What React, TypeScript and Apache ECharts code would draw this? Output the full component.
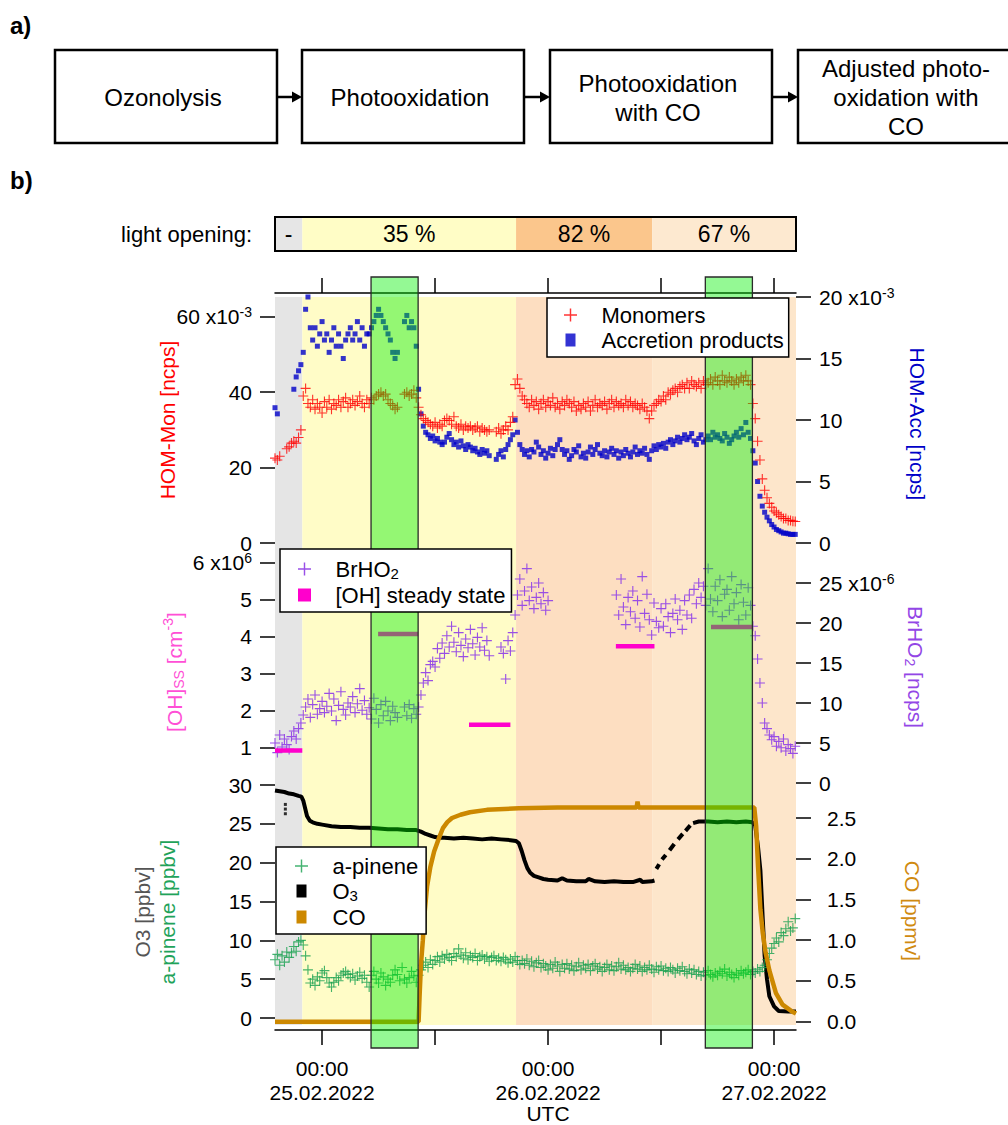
import React, { useEffect, useRef } from 'react';
import * as echarts from 'echarts';

const FONT = '"Liberation Sans", Arial, Helvetica, sans-serif';

// ---- time axis: hours relative to 00:00 UTC 25.02.2022 ----
const T_MIN = -5;
const T_MAX = 50.33;
const STEP_H = 0.25; // sampling step of the scatter arrays (first value at T_MIN)

const halfDayTicks = [0, 12, 24, 36, 48];
const dayTickHours = [0, 24, 48];
const dayTickDates = ['25.02.2022', '26.02.2022', '27.02.2022'];

// ---- panel a) flow ----
const flowSteps = ['Ozonolysis', 'Photooxidation', 'Photooxidation\nwith CO', 'Adjusted photo-\noxidation with\nCO'];

// ---- light opening phases ----
const lightLabels = ['-', '35 %', '82 %', '67 %'];
const lightStart = [-5, -2.1, 20.6, 35.05];
const lightEnd = [-2.1, 20.6, 35.05, 50.33];
const lightBarColors = ['#e6e6e6', '#fffdc6', '#fbc68c', '#fde9d0'];
const panelBgColors = ['#e5e5e5', '#fffcc7', '#fddec1', '#fde6cb'];

// ---- green periods ----
const greenStart = [5.2, 40.7];
const greenEnd = [10.2, 45.7];

// ---- HOM monomers [x10^-3 ncps], 4 values per hour from -5 h ----
const monomers = [
  22.5, 22, 23, null,
  null, 25, 25.5, 26.5,
  27, 26.5, 28, 30,
  39, 41, 37, 36,
  38, 35.5, 37, 36,
  34.5, 37.5, 36, 38,
  35.5, 37, 36.5, 38,
  36, 37.5, 38.5, 36,
  37, 38, 36.5, 37.5,
  39, 37, 36, 38,
  37, 38.5, 38, 39,
  39.5, 40, 39, 39.5,
  38, 37, 36.5, 35.5,
  36, null, null, 39.5,
  40, 39, 39.5, 40.5,
  38.5, 36, 34, 33,
  32.5, 32, 31.5, 31,
  32, 30.5, 31.5, 31,
  32.5, 33, 32.5, 31.5,
  33.5, 31, 30.5, 31.5,
  30, 31, 30.5, 31,
  30, 30.5, 31, 29.5,
  30.5, 30, 29.5, 30,
  null, null, 29.5, 30.5,
  29, 30, 31, 30,
  32, 33.5, 42, 43.5,
  41, 39, 38, 37,
  36, 38, 36.5, 37.5,
  35.5, 37, 38, 36,
  37.5, 36.5, 38.5, 36,
  37, 35.5, 37.5, 36.5,
  38, 37, 36, 37.5,
  35, 36.5, 35.5, 37,
  36, 37.5, 35, 36.5,
  38, 36, 37, 36.5,
  37.5, 35.5, 37, 38,
  36, 37.5, 36.5, 37,
  36, 38, 36.5, 37.5,
  36, 37, 36.5, 35.5,
  37, 36, 35, 33,
  35, 36.5, 37, 38,
  37.5, 39, 38, 40,
  39.5, 40.5, 41, 40,
  41.5, 42, 41, 42.5,
  41, 43, 42, 41.5,
  42.5, 41, 43, 42,
  42.5, 43.5, 42, 44,
  43, 42, 44.5, 43,
  42.5, 44, 43, 42,
  43.5, 42.5, 44, 43,
  44.5, 43, 42, 37,
  33, 27, 22, 17,
  14, 12, 10.5, 9.5,
  8.5, 8, 7.5, 7,
  6.5, 6.5, 6, 6,
  5.8, 5.7,
];

// ---- HOM accretion products [x10^-3 ncps] ----
const accretion = [
  11, 10.5, null, null,
  null, null, null, null,
  12.5, 13.5, 14, 14.5,
  15.5, 19, 20, 17.5,
  16.5, 17.5, 16, 17,
  18, 16.5, 17, 15.5,
  16.5, 17.5, 16, 17,
  16, 15, 16.5, 17,
  17.5, 16.5, 17, 18,
  16.5, 17.5, 16, 17,
  17, 17.5, 18, 18.5,
  19, 18.5, 18, 17.5,
  17, 16.5, 15.5, 15,
  15.5, null, null, 18,
  18.5, 17.5, 18, 17.5,
  16, 12.5, 10.5, 9.5,
  9, 8.8, 8.5, 8.7,
  8.3, 8.5, 8.2, 8,
  8.2, 8.6, 8.9, 8.4,
  8, 8.2, 7.8, 8.3,
  7.9, 7.6, 8, 7.8,
  7.5, 7.7, 7.4, 7.2,
  7.6, 7.3, 7.5, 7.1,
  null, null, 6.8, 7.2,
  7.5, 7, 7.6, 8,
  8.4, 8.8, 10, 9,
  8, 7.6, 7.2, 7.5,
  7, 7.6, 7.4, 8.2,
  7.8, 7.2, 7.5, 6.9,
  7.3, 7.7, 7.1, 7.6,
  8, 8.4, 7.6, 7.2,
  7.5, 6.8, 7.1, 7.6,
  7.4, 7.9, 7, 7.3,
  6.9, 7.4, 7.8, 7.2,
  7.6, 8, 7.3, 7.1,
  7.5, 7, 7.4, 7.7,
  7.2, 7.5, 6.9, 7.4,
  7.1, 7.6, 7.3, 7,
  7.4, 7.8, 7.2, 7.5,
  7.3, 7.7, 7.2, 6.8,
  7.5, 7.9, 7.6, 8,
  7.8, 8.1, 7.7, 8.2,
  8.4, 8, 8.3, 8.6,
  8.2, 8.5, 8.8, 8.4,
  8.6, 8.9, 8.3, 8,
  8.5, 8.8, 8.2, 8.4,
  8.7, 8.4, 9, 8.6,
  8.8, 8.5, 8.3, 8.9,
  8.6, 8.1, 8.4, 8.7,
  9, 8.6, 9.3, 8.8,
  9.8, 9, 8.5, 7.5,
  6.5, 5, 3.8, 3,
  2.5, 2.1, 1.8, 1.5,
  1.3, 1.1, 1, 0.9,
  0.8, 0.8, 0.75, 0.7,
  0.7, 0.7,
];

// ---- BrHO2 [x10^-6 ncps] ----
const brho2 = [
  5, 3.8, 6, 4.5,
  5.5, 4.8, 4.2, 5.8,
  6.5, 5.5, 6.8, 7.5,
  8.5, 9.5, 10.5, 8.2,
  9.8, 11, 8.6, 9.3,
  10.2, 8.8, 9.6, 11.2,
  9, 10.5, 7.8, 9.7,
  11.4, 9.2, 8.5, 10,
  9.5, 10.8, 8.8, 9.9,
  11.8, 9.1, 10.3, 8.6,
  9.4, 8, 10.6, 9.2,
  7.5, 9.8, 8.4, 10.2,
  9, 7.8, 9.6, 8.8,
  8.2, null, null, 9.5,
  8.4, 9.8, 8.1, 9.3,
  8.6, 9.5, 11, 12.5,
  13.8, 12.8, 14.8, 15.2,
  14.5, 16.8, 15.6, 17.5,
  16.2, 18.4, 17, 19.6,
  17.6, 16.4, 18.8, 17.2,
  15.8, 18, 16.9, 19.2,
  17.4, 16, 18.2, 17,
  19.4, 16.6, 17.8, 15.9,
  null, null, null, null,
  17, 16.2, 13, 17.8,
  16.5, 18.8, 21, 23.5,
  25.5, 22.2, 24, 26.8,
  22.8, 24.5, 21.8, 23.2,
  25, 22.4, 23.8, 21.6,
  22.8, null, null, null,
  null, null, null, null,
  null, null, null, null,
  null, null, null, null,
  null, null, null, null,
  null, null, null, null,
  null, null, null, null,
  null, 23.5, 21, 25.5,
  22, 19.8, 23.2, 21.4,
  24, 20.6, 22.8, 19.5,
  25.8, 21.2, 23.6, 20.4,
  18.5, 22.5, 20.2, 19.4,
  21.8, 19.6, 22.4, 20.8,
  18.8, 21.2, 23, 20.4,
  21.6, 19.2, 22.8, 21,
  23.5, 20.6, 24.2, 22.4,
  25, 23.2, 24.6, 22.2,
  26.8, 23, 21.4, 24.6,
  22.8, 25.4, 20.8, 23.6,
  24.2, 21.6, 25.8, 22.4,
  23.8, 20.4, 24.8, 22.6,
  21, 24.4, 22.2, 19.6,
  18.4, 15.5, 12.5, 10,
  7.5, 6.8, 6, 5.4,
  5.8, 4.6, 5.2, 4.4,
  5.5, 4, 4.8, 4.3,
  3.7, 4.6,
];

// ---- a-pinene [ppbv] ----
const apinene = [
  7.5, 8.2, 6.8, 8,
  7.2, 8.5, 7.8, 8.4,
  9.2, 8.6, 9.8, 10,
  9.4, 8, 6.2, 4.5,
  5, 4.2, 5.3, 4.8,
  5.8, 6.1, 5.2, 4.5,
  4, 4.6, 5.2, 4.8,
  5.5, 5.8, 6, 5.6,
  5.2, 5.7, 4.9, 5.4,
  5.9, 5.1, 5.5, 4.6,
  4, 5.5, 6, 5,
  4.5, 5.8, 5.3, 4.2,
  5, 4.6, 5.5, 6.2,
  5.6, 4.8, 6.5, 5,
  4.5, 5.2, 6, 5.4,
  4.6, 5.5, 6.2, 6.8,
  7.2, 6.5, 7.5, 6.9,
  7.4, 7.9, 7.2, 8,
  7.6, 8.2, 7.8, 7.4,
  8.3, 7.9, 8.9, 8.1,
  7.7, 8.4, 7.5, 8,
  7.8, 8.3, 7.4, 7.9,
  8.1, 7.6, 7.9, 7.3,
  7.8, 8, 7.4, 7.7,
  7.3, 7.8, 7.5, 7.1,
  7.6, 7.2, 7.9, 7.4,
  6.9, 7.4, 7, 7.6,
  6.8, 7.3, 6.6, 7.1,
  7.4, 6.5, 7, 6.7,
  6.2, 6.9, 6.4, 7.2,
  6.7, 6, 6.9, 6.4,
  7, 6.3, 6.8, 6.1,
  6.6, 7.1, 6.2, 6.8,
  6.4, 6.9, 6.1, 6.7,
  7, 6.3, 6.6, 6,
  6.5, 6.9, 6.2, 6.7,
  6.1, 6.6, 7.1, 6.3,
  6.8, 6.2, 6.5, 6,
  6.4, 6.9, 6.3, 6.7,
  6, 6.5, 6.2, 6.8,
  6.3, 5.9, 6.6, 6.2,
  6.7, 6.1, 6.4, 6,
  6.5, 6.2, 5.8, 6.4,
  6.1, 6.6, 6, 5.7,
  6.3, 5.8, 6.2, 5.6,
  6, 5.4, 5.9, 5.5,
  6.1, 5.6, 5.3, 5.8,
  5.5, 6, 5.7, 6.3,
  5.4, 5.9, 5.6, 5.2,
  5.8, 5.5, 6.1, 5.7,
  5.9, 6.2, 5.6, 6,
  5.8, 6.3, 6, 6.5,
  6.8, 7.5, 8.3, 9,
  9.6, 10.3, 9.8, 11,
  10.6, 11.5, 12.4, 11.2,
  11.6, 12.8,
];

// ---- [OH] steady state [x10^6 cm-3] (null = gap) ----
const ohHours = [-5, -2.1, 2, 5.95, 10.2, 12, 15.6, 20.0, 25, 31.2, 35.3, 38, 41.3, 45.7];
const ohValues = [0.93, 0.93, null, 4.08, 4.08, null, 1.63, 1.63, null, 3.75, 3.75, null, 4.27, 4.27];

// ---- O3 [ppbv] ----
const o3Hours = [
  -5, -4.5, -4, -3.5, -3, -2.5, -2.2, -2, -1.8, -1.6, -1.3, -1, -0.5, 0, 1, 2, 3, 4, 5, 6, 7, 8, 9, 10,
  10.5, 11, 11.5, 12, 12.5, 13, 14, 15, 16, 17, 18, 19, 20, 20.6, 20.9, 21.2, 21.5, 21.8, 22.1, 22.5, 23,
  23.5, 24, 25, 25.5, 26, 27, 28, 28.3, 29, 30, 31, 32, 33, 33.8, 34, 35, 35.3,
  35.4, 35.5, 35.8, 35.95, 36.1, 36.5, 36.7, 36.9, 37.4, 37.6, 37.8, 38.3, 38.45, 38.6, 39.1, 39.25,
  39.4, 40, 41, 42, 43, 44, 45, 45.7, 46, 46.3, 46.55, 46.8, 47, 47.25, 47.5, 48, 48.5, 49.5, 50.33,
];
const o3Ppbv = [
  29.3, 29.2, 29.1, 28.9, 28.8, 28.6, 28.5, 28, 27, 26, 25.4, 25.2, 25, 24.9, 24.7, 24.6, 24.6, 24.5, 24.5, 24.4, 24.3, 24.3, 24.2, 24.2,
  24, 23.7, 23.5, 23.3, 23.2, 23.2, 23.1, 23.2, 23.1, 23, 23.1, 23, 22.9, 22.8, 22.5, 21.5, 20.3, 19.3, 18.7, 18.3, 18.1,
  17.9, 17.8, 17.7, 18, 17.7, 17.6, 17.6, 17.9, 17.6, 17.5, 17.6, 17.5, 17.5, 17.8, 17.5, 17.6, 17.7,
  null, 19.2, 19.8, null, 20.4, 21, null, 21.6, 22.4, null, 23, 23.7, null, 24.1, 24.8, null,
  25.1, 25.3, 25.3, 25.2, 25.3, 25.2, 25.3, 25.2, 24.8, 22, 19, 12.7, 8, 5, 2.8, 1.5, 0.9, 0.85, 0.85,
];
const o3DotHours = [-3.9, -3.9, -3.9];
const o3DotPpbv = [26.3, 26.9, 27.5];

// ---- CO [ppmv] ----
const coHours = [
  -5, 10.25, 10.35, 10.5, 10.7, 10.9, 11.15, 11.5, 11.9, 12.4, 12.85, 13.3, 13.8, 14.7, 15.7, 17.5, 20.9,
  25, 30, 33.4, 33.5, 33.6, 38, 45.9, 46.1, 46.3, 46.55, 46.8, 47.1, 47.5, 48.2, 48.9, 49.85, 50.33,
];
const coPpmv = [
  0, 0, 0.3, 0.7, 1.0, 1.35, 1.66, 1.9, 2.09, 2.25, 2.38, 2.45, 2.5, 2.54, 2.57, 2.6, 2.62,
  2.63, 2.63, 2.63, 2.7, 2.63, 2.63, 2.63, 2.4, 1.9, 1.38, 1.09, 0.85, 0.63, 0.35, 0.21, 0.13, 0.1,
];

// ---- symbols ----
const PLUS = 'path://M4,0h1v4h4v1h-4v4h-1v-4h-4v-1h4z';
const SQUARE = 'path://M0,0h10v13h-10z';
const SQUARE_OH = 'path://M0,0h12v12h-12z';

const C_MON = '#ff0000';
const C_ACC = '#0000c8';
const C_BR = '#9346e6';
const C_OH = '#ff00cc';
const C_AP = '#17a04f';
const C_O3 = '#000000';
const C_CO = '#cc8800';

function sampled(vals: (number | null)[]) {
  const out: number[][] = [];
  vals.forEach((v, i) => {
    if (v !== null && v !== undefined) out.push([T_MIN + i * STEP_H, v]);
  });
  return out;
}
function paired(hours: number[], vals: (number | null)[]) {
  return hours.map((h, i) => [h, vals[i] === null ? '-' : vals[i]]);
}

const supRich = {
  sup: { fontSize: 14, fontFamily: FONT, color: '#000', padding: [0, 0, 9, 0] },
};

function yAx(gridIndex: number, position: string, min: number, max: number, ticks: number[], formatter: any, margin: number) {
  return {
    type: 'value', gridIndex, position, min, max,
    axisLine: { show: false, onZero: false },
    splitLine: { show: false },
    axisTick: { show: true, length: 15, customValues: ticks, lineStyle: { color: '#000', width: 1.5 } },
    axisLabel: {
      show: true, customValues: ticks, formatter, margin, color: '#000',
      fontSize: 21, fontFamily: FONT, rich: supRich,
    },
  };
}
const hiddenY = (gridIndex: number) => ({ type: 'value', gridIndex, min: 0, max: 1, show: false, axisLine: { onZero: false } });
const hiddenX = (gridIndex: number) => ({ type: 'value', gridIndex, min: T_MIN, max: T_MAX, show: false, axisLine: { onZero: false } });
const sciFmt = (top: number, exp: string) => (v: number) => (v === top ? `${v} x10{sup|${exp}}` : `${v}`);

function buildGraphic() {
  const els: any[] = [];
  const boxLeft = [55, 302, 550, 798];
  const boxW = 222, boxTop = 50, boxH = 93;
  els.push({ type: 'text', x: 10, y: 25, style: { text: 'a)', fontSize: 24, fontWeight: 'bold', fontFamily: FONT, fill: '#000', verticalAlign: 'middle', textVerticalAlign: 'middle' } });
  els.push({ type: 'text', x: 10, y: 180, style: { text: 'b)', fontSize: 24, fontWeight: 'bold', fontFamily: FONT, fill: '#000', verticalAlign: 'middle', textVerticalAlign: 'middle' } });
  flowSteps.forEach((t, i) => {
    els.push({ type: 'rect', shape: { x: boxLeft[i], y: boxTop, width: boxW, height: boxH }, style: { fill: '#fff', stroke: '#000', lineWidth: 2.5 } });
    els.push({
      type: 'text', x: boxLeft[i] + boxW / 2 - 3, y: boxTop + boxH / 2 + 1,
      style: { text: t, fontSize: 24, fontFamily: FONT, fill: '#000', lineHeight: 29, align: 'center', verticalAlign: 'middle', textAlign: 'center', textVerticalAlign: 'middle' },
    });
    if (i < flowSteps.length - 1) {
      const x1 = boxLeft[i] + boxW, x2 = boxLeft[i + 1];
      els.push({ type: 'line', shape: { x1, y1: 97, x2: x2 - 8, y2: 97 }, style: { stroke: '#000', lineWidth: 2.5 } });
      els.push({ type: 'polygon', shape: { points: [[x2 - 10, 91.5], [x2, 97], [x2 - 10, 102.5]] }, style: { fill: '#000' } });
    }
  });
  els.push({ type: 'text', x: 252, y: 234, style: { text: 'light opening:', fontSize: 22, fontFamily: FONT, fill: '#000', align: 'right', verticalAlign: 'middle', textAlign: 'right', textVerticalAlign: 'middle' } });
  els.push({ type: 'text', x: 548, y: 1113, style: { text: 'UTC', fontSize: 21, fontFamily: FONT, fill: '#000', align: 'center', verticalAlign: 'middle', textAlign: 'center', textVerticalAlign: 'middle' } });

  const title = (text: string, x: number, y: number, rot: number, color: string) => ({
    type: 'text', x, y, rotation: rot,
    style: {
      text, fontSize: 21, fontFamily: FONT, fill: color, align: 'center', verticalAlign: 'middle', textAlign: 'center', textVerticalAlign: 'middle',
      rich: {
        sub: { fontSize: 14, fontFamily: FONT, fill: color, color, padding: [10, 0, 0, 0] },
        sup: { fontSize: 14, fontFamily: FONT, fill: color, color, padding: [0, 0, 12, 0] },
      },
    },
  });
  els.push(title('HOM-Mon [ncps]', 167, 420, Math.PI / 2, '#ff0000'));
  els.push(title('HOM-Acc [ncps]', 917, 424, -Math.PI / 2, '#0000c8'));
  els.push(title('[OH]{sub|SS} [cm{sup|-3}]', 174, 672, Math.PI / 2, '#ff4fd6'));
  els.push(title('BrHO{sub|2} [ncps]', 915, 667, -Math.PI / 2, '#9346e6'));
  els.push(title('O3 [ppbv]', 142, 912, Math.PI / 2, '#555555'));
  els.push(title('a-pinene [ppbv]', 167, 912, Math.PI / 2, '#1fa35a'));
  els.push(title('CO [ppmv]', 912, 911, -Math.PI / 2, '#d08a10'));
  return els;
}

function buildOption() {
  const legendBase = {
    orient: 'vertical', itemWidth: 52, itemHeight: 13, itemGap: 3,
    backgroundColor: '#fff', borderColor: '#000', borderWidth: 1.5, borderRadius: 0,
    z: 10, selectedMode: false, itemStyle: { borderWidth: 0 },
    textStyle: {
      fontSize: 22, fontFamily: FONT, color: '#000',
      rich: { sub: { fontSize: 15, fontFamily: FONT, color: '#000', padding: [9, 0, 0, 0] } },
    },
    formatter: (name: string) => (name === 'BrHO2' ? 'BrHO{sub|2}' : name === 'O3' ? 'O{sub|3}' : name),
  };
  return {
    animation: false,
    backgroundColor: '#fff',
    textStyle: { fontFamily: FONT },
    graphic: buildGraphic(),
    grid: [
      { left: 275, top: 217, width: 521, height: 34, show: true, borderColor: '#000', borderWidth: 2, z: 3, backgroundColor: 'transparent' },
      { left: 275, top: 297, width: 521, height: 246 },
      { left: 275, top: 543, width: 521, height: 242 },
      { left: 275, top: 785, width: 521, height: 240 },
      { left: 275, top: 297, width: 521, height: 728 },
      { left: 275, top: 277, width: 521, height: 771 },
    ],
    xAxis: [
      hiddenX(0),
      {
        type: 'value', gridIndex: 1, position: 'top', offset: 4, min: T_MIN, max: T_MAX,
        axisLine: { show: true, onZero: false, lineStyle: { color: '#000', width: 1.5 } },
        axisTick: { show: true, length: 15, customValues: halfDayTicks, lineStyle: { color: '#000', width: 1.5 } },
        axisLabel: { show: false }, splitLine: { show: false },
      },
      hiddenX(2),
      {
        type: 'value', gridIndex: 3, position: 'bottom', offset: 5, min: T_MIN, max: T_MAX,
        axisLine: { show: true, onZero: false, lineStyle: { color: '#000', width: 1.5 } },
        axisTick: { show: true, length: 15, customValues: halfDayTicks, lineStyle: { color: '#000', width: 1.5 } },
        axisLabel: {
          show: true, customValues: dayTickHours, margin: 26, fontSize: 21, fontFamily: FONT, color: '#000', lineHeight: 24,
          formatter: (v: number) => {
            const k = dayTickHours.indexOf(v);
            return k >= 0 ? `00:00\n${dayTickDates[k]}` : '';
          },
        },
        splitLine: { show: false },
      },
      hiddenX(4),
      hiddenX(5),
    ],
    yAxis: [
      hiddenY(0),
      yAx(1, 'left', 0, 65.25, [0, 20, 40, 60], sciFmt(60, '-3'), 23),
      yAx(1, 'right', 0, 20, [0, 5, 10, 15, 20], sciFmt(20, '-3'), 23),
      yAx(2, 'left', 0, 6.54, [1, 2, 3, 4, 5, 6], sciFmt(6, '6'), 23),
      yAx(2, 'right', -0.25, 30, [0, 5, 10, 15, 20, 25], sciFmt(25, '-6'), 23),
      yAx(3, 'left', -0.9, 30, [0, 5, 10, 15, 20, 25, 30], (v: number) => `${v}`, 23),
      yAx(3, 'right', -0.04, 2.905, [0, 0.5, 1, 1.5, 2, 2.5], (v: number) => v.toFixed(1), 31),
      hiddenY(4),
      hiddenY(5),
    ],
    legend: [
      {
        ...legendBase, left: 547, top: 298, padding: [6, 5, 6, 17],
        data: [{ name: 'Monomers', icon: PLUS }, { name: 'Accretion products', icon: SQUARE }],
      },
      {
        ...legendBase, left: 280, top: 549, padding: [9, 6, 6, 18],
        data: [{ name: 'BrHO2', icon: PLUS }, { name: '[OH] steady state', icon: SQUARE_OH }],
      },
      {
        ...legendBase, left: 276, top: 847, padding: [8, 8, 6, 19],
        data: [{ name: 'a-pinene', icon: PLUS }, { name: 'O3', icon: SQUARE }, { name: 'CO', icon: SQUARE }],
      },
    ],
    series: [
      {
        type: 'scatter', name: 'lightbar', xAxisIndex: 0, yAxisIndex: 0, data: [[T_MIN, 0.5]], symbolSize: 0, silent: true,
        markArea: {
          silent: true, z: 1,
          label: { show: true, position: 'inside', fontSize: 23, fontFamily: FONT, color: '#000' },
          data: lightLabels.map((name, i) => [
            { name, xAxis: lightStart[i], itemStyle: { color: lightBarColors[i], borderWidth: 0 } },
            { xAxis: lightEnd[i] },
          ]),
        },
      },
      {
        type: 'scatter', name: 'bg', xAxisIndex: 4, yAxisIndex: 7, data: [[T_MIN, 0.5]], symbolSize: 0, silent: true,
        markArea: {
          silent: true, z: 0, label: { show: false },
          data: lightStart.map((s, i) => [
            { xAxis: s, itemStyle: { color: panelBgColors[i], borderWidth: 0 } },
            { xAxis: lightEnd[i] },
          ]),
        },
      },
      {
        type: 'scatter', name: 'Accretion products', xAxisIndex: 1, yAxisIndex: 2, data: sampled(accretion),
        symbol: 'rect', symbolSize: 5, itemStyle: { color: C_ACC }, z: 2,
      },
      {
        type: 'scatter', name: 'Monomers', xAxisIndex: 1, yAxisIndex: 1, data: sampled(monomers),
        symbol: PLUS, symbolSize: 10, itemStyle: { color: C_MON }, z: 2,
      },
      {
        type: 'scatter', name: 'BrHO2', xAxisIndex: 2, yAxisIndex: 4, data: sampled(brho2),
        symbol: PLUS, symbolSize: 10, itemStyle: { color: C_BR, opacity: 0.95 }, z: 2,
      },
      {
        type: 'line', name: '[OH] steady state', xAxisIndex: 2, yAxisIndex: 3, data: paired(ohHours, ohValues),
        showSymbol: false, symbol: 'none', connectNulls: false, lineStyle: { color: C_OH, width: 4.5, cap: 'butt' },
        itemStyle: { color: C_OH }, z: 3,
      },
      {
        type: 'scatter', name: 'a-pinene', xAxisIndex: 3, yAxisIndex: 5, data: sampled(apinene),
        symbol: PLUS, symbolSize: 10, itemStyle: { color: C_AP }, z: 2,
      },
      {
        type: 'line', name: 'O3', xAxisIndex: 3, yAxisIndex: 5, data: paired(o3Hours, o3Ppbv),
        showSymbol: false, symbol: 'none', connectNulls: false, lineStyle: { color: C_O3, width: 4 },
        itemStyle: { color: C_O3 }, z: 2,
      },
      {
        type: 'scatter', name: 'O3', xAxisIndex: 3, yAxisIndex: 5, data: paired(o3DotHours, o3DotPpbv),
        symbol: 'rect', symbolSize: 3, itemStyle: { color: C_O3 }, z: 2,
      },
      {
        type: 'line', name: 'CO', xAxisIndex: 3, yAxisIndex: 6, data: paired(coHours, coPpmv),
        showSymbol: false, symbol: 'none', lineStyle: { color: C_CO, width: 4.5 },
        itemStyle: { color: C_CO }, z: 3,
      },
      {
        type: 'scatter', name: 'overlay', xAxisIndex: 5, yAxisIndex: 8, data: [[T_MIN, 0.5]], symbolSize: 0, silent: true,
        markArea: {
          silent: true, z: 5, label: { show: false },
          data: greenStart.map((s, i) => [
            { xAxis: s, itemStyle: { color: 'rgba(0,240,0,0.42)', borderColor: '#2a2a2a', borderWidth: 1.3 } },
            { xAxis: greenEnd[i] },
          ]),
        },
      },
    ],
  };
}

export default function App() {
  const ref = useRef<HTMLDivElement>(null);
  useEffect(() => {
    if (!ref.current) return;
    const chart = echarts.init(ref.current, null, { renderer: 'svg' });
    chart.setOption(buildOption() as any);
    return () => chart.dispose();
  }, []);
  return <div ref={ref} style={{ position: 'fixed', left: 0, top: 0, width: 1008, height: 1125, background: '#fff' }} />;
}
